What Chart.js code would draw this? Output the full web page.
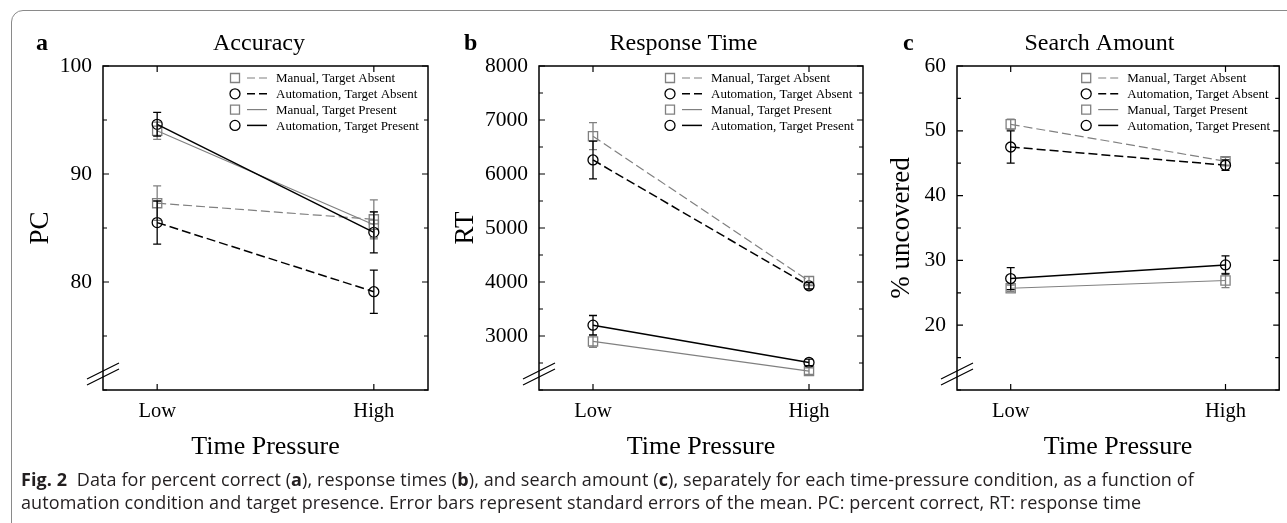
<!DOCTYPE html>
<html>
<head>
<meta charset="utf-8">
<script src="https://cdn.jsdelivr.net/npm/chart.js@4.4.0/dist/chart.umd.min.js"></script>
<style>
  body { margin: 0; background: #fff; width: 1287px; height: 523px; overflow: hidden; position: relative; }
  .frame { position: absolute; left: 11px; top: 10px; width: 1400px; height: 600px;
           border: 1.5px solid #8a8a8a; border-radius: 12px; }
  .panel { position: absolute; top: 0; height: 470px; }
  #caption { position: absolute; left: 21px; top: 468px; font-family: 'Open Sans', sans-serif;
             font-size: 18px; line-height: 23px; color: #231f20; white-space: nowrap; letter-spacing: 0.1px; }
</style>
</head>
<body>
<div class="frame"></div>
<div class="panel" style="left:0;width:440px"><canvas id="chartA"></canvas></div>
<div class="panel" style="left:440px;width:440px"><canvas id="chartB"></canvas></div>
<div class="panel" style="left:870px;width:417px"><canvas id="chartC"></canvas></div>
<div id="caption"><b>Fig. 2</b>&nbsp; Data for percent correct (<b>a</b>), response times (<b>b</b>), and search amount (<b>c</b>), separately for each time-pressure condition, as a function of<br>automation condition and target presence. Error bars represent standard errors of the mean. PC: percent correct, RT: response time</div>

<script>
var pressure = ['Low', 'High'];
var seriesNames = ['Manual, Target Absent', 'Automation, Target Absent', 'Manual, Target Present', 'Automation, Target Present'];

// a: percent correct
var accManAbs = [87.3, 85.8];
var accManAbsSe = [1.6, 1.8];
var accAutoAbs = [85.5, 79.1];
var accAutoAbsSe = [2.0, 2.0];
var accManPres = [94.0, 85.3];
var accManPresSe = [0.8, 1.2];
var accAutoPres = [94.6, 84.6];
var accAutoPresSe = [1.1, 1.9];
var accTicks = [80, 90, 100];

// b: response time
var rtManAbs = [6700, 4020];
var rtManAbsSe = [250, 80];
var rtAutoAbs = [6260, 3930];
var rtAutoAbsSe = [350, 60];
var rtManPres = [2900, 2350];
var rtManPresSe = [110, 60];
var rtAutoPres = [3200, 2510];
var rtAutoPresSe = [180, 60];
var rtTicks = [3000, 4000, 5000, 6000, 7000, 8000];

// c: search amount
var saManAbs = [51.0, 45.3];
var saManAbsSe = [0.8, 0.6];
var saAutoAbs = [47.5, 44.7];
var saAutoAbsSe = [2.5, 0.8];
var saManPres = [25.7, 26.9];
var saManPresSe = [0.5, 1.1];
var saAutoPres = [27.2, 29.3];
var saAutoPresSe = [1.7, 1.4];
var saTicks = [20, 30, 40, 50, 60];

var grey = '#808080';
var serif = '"Liberation Serif", "Times New Roman", serif';
var colors = [grey, '#000', grey, '#000'];
var dashes = [[9, 4], [9, 4], [], []];
var shapes = ['rect', 'circle', 'rect', 'circle'];

function makeSets(vals, errs) {
  return vals.map(function (v, i) {
    return {
      label: seriesNames[i],
      data: v.map(function (y, j) { return { x: j, y: y }; }),
      errors: errs[i],
      order: i % 2 ? 0 : 1,
      borderColor: colors[i],
      borderWidth: i % 2 ? 1.5 : 1.2,
      borderDash: dashes[i],
      pointStyle: shapes[i],
      pointRadius: i % 2 ? 5 : 6.5,
      pointHoverRadius: i % 2 ? 5 : 6.5,
      pointBorderColor: colors[i],
      pointBackgroundColor: 'rgba(0,0,0,0)',
      pointBorderWidth: 1.3,
      fill: false,
      tension: 0
    };
  });
}

var panelDeco = {
  id: 'panelDeco',
  afterDatasetsDraw: function (chart) {
    var ctx = chart.ctx;
    var xs = chart.scales.x, ys = chart.scales.y;
    ctx.save();
    ctx.setLineDash([]);
    chart.data.datasets.forEach(function (ds) {
      ctx.strokeStyle = ds.borderColor;
      ctx.lineWidth = 1.3;
      ds.data.forEach(function (p, j) {
        var x = xs.getPixelForValue(p.x);
        var t = ys.getPixelForValue(p.y + ds.errors[j]);
        var b = ys.getPixelForValue(p.y - ds.errors[j]);
        ctx.beginPath();
        ctx.moveTo(x, t); ctx.lineTo(x, b);
        ctx.moveTo(x - 4, t); ctx.lineTo(x + 4, t);
        ctx.moveTo(x - 4, b); ctx.lineTo(x + 4, b);
        ctx.stroke();
      });
    });
    ctx.restore();
  },
  afterDraw: function (chart, args, opts) {
    var ctx = chart.ctx;
    var a = chart.chartArea;
    var xs = chart.scales.x, ys = chart.scales.y;
    ctx.save();
    ctx.strokeStyle = '#000';
    ctx.lineWidth = 1.5;
    ctx.setLineDash([]);
    ctx.strokeRect(a.left, a.top, a.right - a.left, a.bottom - a.top);

    // inward ticks
    ctx.lineWidth = 1.2;
    ctx.beginPath();
    ys.ticks.forEach(function (t) {
      var y = ys.getPixelForValue(t.value);
      var len = opts.majors.indexOf(t.value) >= 0 ? 6 : 4;
      ctx.moveTo(a.left, y); ctx.lineTo(a.left + len, y);
      ctx.moveTo(a.right, y); ctx.lineTo(a.right - len, y);
    });
    xs.ticks.forEach(function (t) {
      var x = xs.getPixelForValue(t.value);
      ctx.moveTo(x, a.top); ctx.lineTo(x, a.top + 6);
      ctx.moveTo(x, a.bottom); ctx.lineTo(x, a.bottom - 6);
    });
    ctx.stroke();

    // axis break marks
    ctx.lineWidth = 1.2;
    ctx.beginPath();
    [13, 19].forEach(function (off) {
      var cy = a.bottom - off;
      ctx.moveTo(a.left - 16, cy + 8);
      ctx.lineTo(a.left + 16, cy - 8);
    });
    ctx.stroke();

    // legend
    var tx = a.right - 152;
    ctx.font = '13px ' + serif;
    ctx.textBaseline = 'middle';
    ctx.textAlign = 'left';
    chart.data.datasets.forEach(function (ds, i) {
      var y = a.top + 12 + i * 15.8;
      ctx.strokeStyle = ds.borderColor;
      ctx.lineWidth = 1.3;
      ctx.setLineDash([]);
      ctx.beginPath();
      if (ds.pointStyle === 'rect') {
        ctx.rect(tx - 45.5, y - 4.5, 9, 9);
      } else {
        ctx.arc(tx - 41, y, 5, 0, Math.PI * 2);
      }
      ctx.stroke();
      ctx.setLineDash(ds.borderDash.length ? [8, 4] : []);
      ctx.lineWidth = ds.borderWidth;
      ctx.beginPath();
      ctx.moveTo(tx - 29, y); ctx.lineTo(tx - 9, y);
      ctx.stroke();
      ctx.fillStyle = '#000';
      ctx.fillText(ds.label, tx, y + 1);
    });

    // panel title and letter
    ctx.fillStyle = '#000';
    ctx.textBaseline = 'alphabetic';
    ctx.font = '24px ' + serif;
    ctx.textAlign = 'center';
    ctx.fillText(opts.title, opts.titleX, 50);
    ctx.font = 'bold 24px ' + serif;
    ctx.textAlign = 'left';
    ctx.fillText(opts.letter, opts.letterX, 50);
    ctx.restore();
  }
};

function makeChart(id, p) {
  return new Chart(document.getElementById(id), {
    type: 'line',
    data: { datasets: makeSets(p.vals, p.errs) },
    plugins: [panelDeco],
    options: {
      animation: false,
      responsive: true,
      maintainAspectRatio: false,
      layout: { padding: { left: 0, top: 66, right: p.padRight, bottom: 5 } },
      plugins: {
        legend: { display: false },
        tooltip: { enabled: false },
        panelDeco: { majors: p.majors, title: p.title, titleX: p.titleX, letter: p.letter, letterX: p.letterX }
      },
      scales: {
        x: {
          type: 'linear',
          min: -0.25,
          max: 1.25,
          afterBuildTicks: function (s) { s.ticks = pressure.map(function (n, i) { return { value: i }; }); },
          afterFit: function (s) { s.height = 75; },
          grid: { display: false, drawTicks: false },
          border: { display: false },
          ticks: {
            autoSkip: false, maxRotation: 0, padding: 9, color: '#000',
            font: { family: serif, size: 20.5 },
            callback: function (v) { return pressure[v]; }
          },
          title: { display: true, text: 'Time Pressure', color: '#000', font: { family: serif, size: 26 }, padding: { top: 0, bottom: 2 } }
        },
        y: {
          min: p.min,
          max: p.max,
          afterFit: function (s) { s.width = p.yWidth; },
          grid: { display: false, drawTicks: false },
          border: { display: false },
          ticks: {
            stepSize: p.step, autoSkip: false, padding: 11, color: '#000',
            font: { family: serif, size: 21.5 },
            callback: function (v) { return p.majors.indexOf(v) >= 0 ? String(v) : ''; }
          },
          title: { display: true, text: p.yTitle, color: '#000', font: { family: serif, size: 27 }, padding: { top: p.yTitlePad, bottom: 0 } }
        }
      }
    }
  });
}

window.onload = function () {
  makeChart('chartA', {
    vals: [accManAbs, accAutoAbs, accManPres, accAutoPres],
    errs: [accManAbsSe, accAutoAbsSe, accManPresSe, accAutoPresSe],
    majors: accTicks, min: 70, max: 100, step: 5,
    yWidth: 103, padRight: 12, yTitle: 'PC', yTitlePad: 25,
    title: 'Accuracy', titleX: 259, letter: 'a', letterX: 36
  });
  makeChart('chartB', {
    vals: [rtManAbs, rtAutoAbs, rtManPres, rtAutoPres],
    errs: [rtManAbsSe, rtAutoAbsSe, rtManPresSe, rtAutoPresSe],
    majors: rtTicks, min: 2000, max: 8000, step: 500,
    yWidth: 99, padRight: 17, yTitle: 'RT', yTitlePad: 10,
    title: 'Response Time', titleX: 243.5, letter: 'b', letterX: 24
  });
  makeChart('chartC', {
    vals: [saManAbs, saAutoAbs, saManPres, saAutoPres],
    errs: [saManAbsSe, saAutoAbsSe, saManPresSe, saAutoPresSe],
    majors: saTicks, min: 10, max: 60, step: 5,
    yWidth: 87, padRight: 7, yTitle: '% uncovered', yTitlePad: 16,
    title: 'Search Amount', titleX: 229.5, letter: 'c', letterX: 33
  });
};
</script>
</body>
</html>
